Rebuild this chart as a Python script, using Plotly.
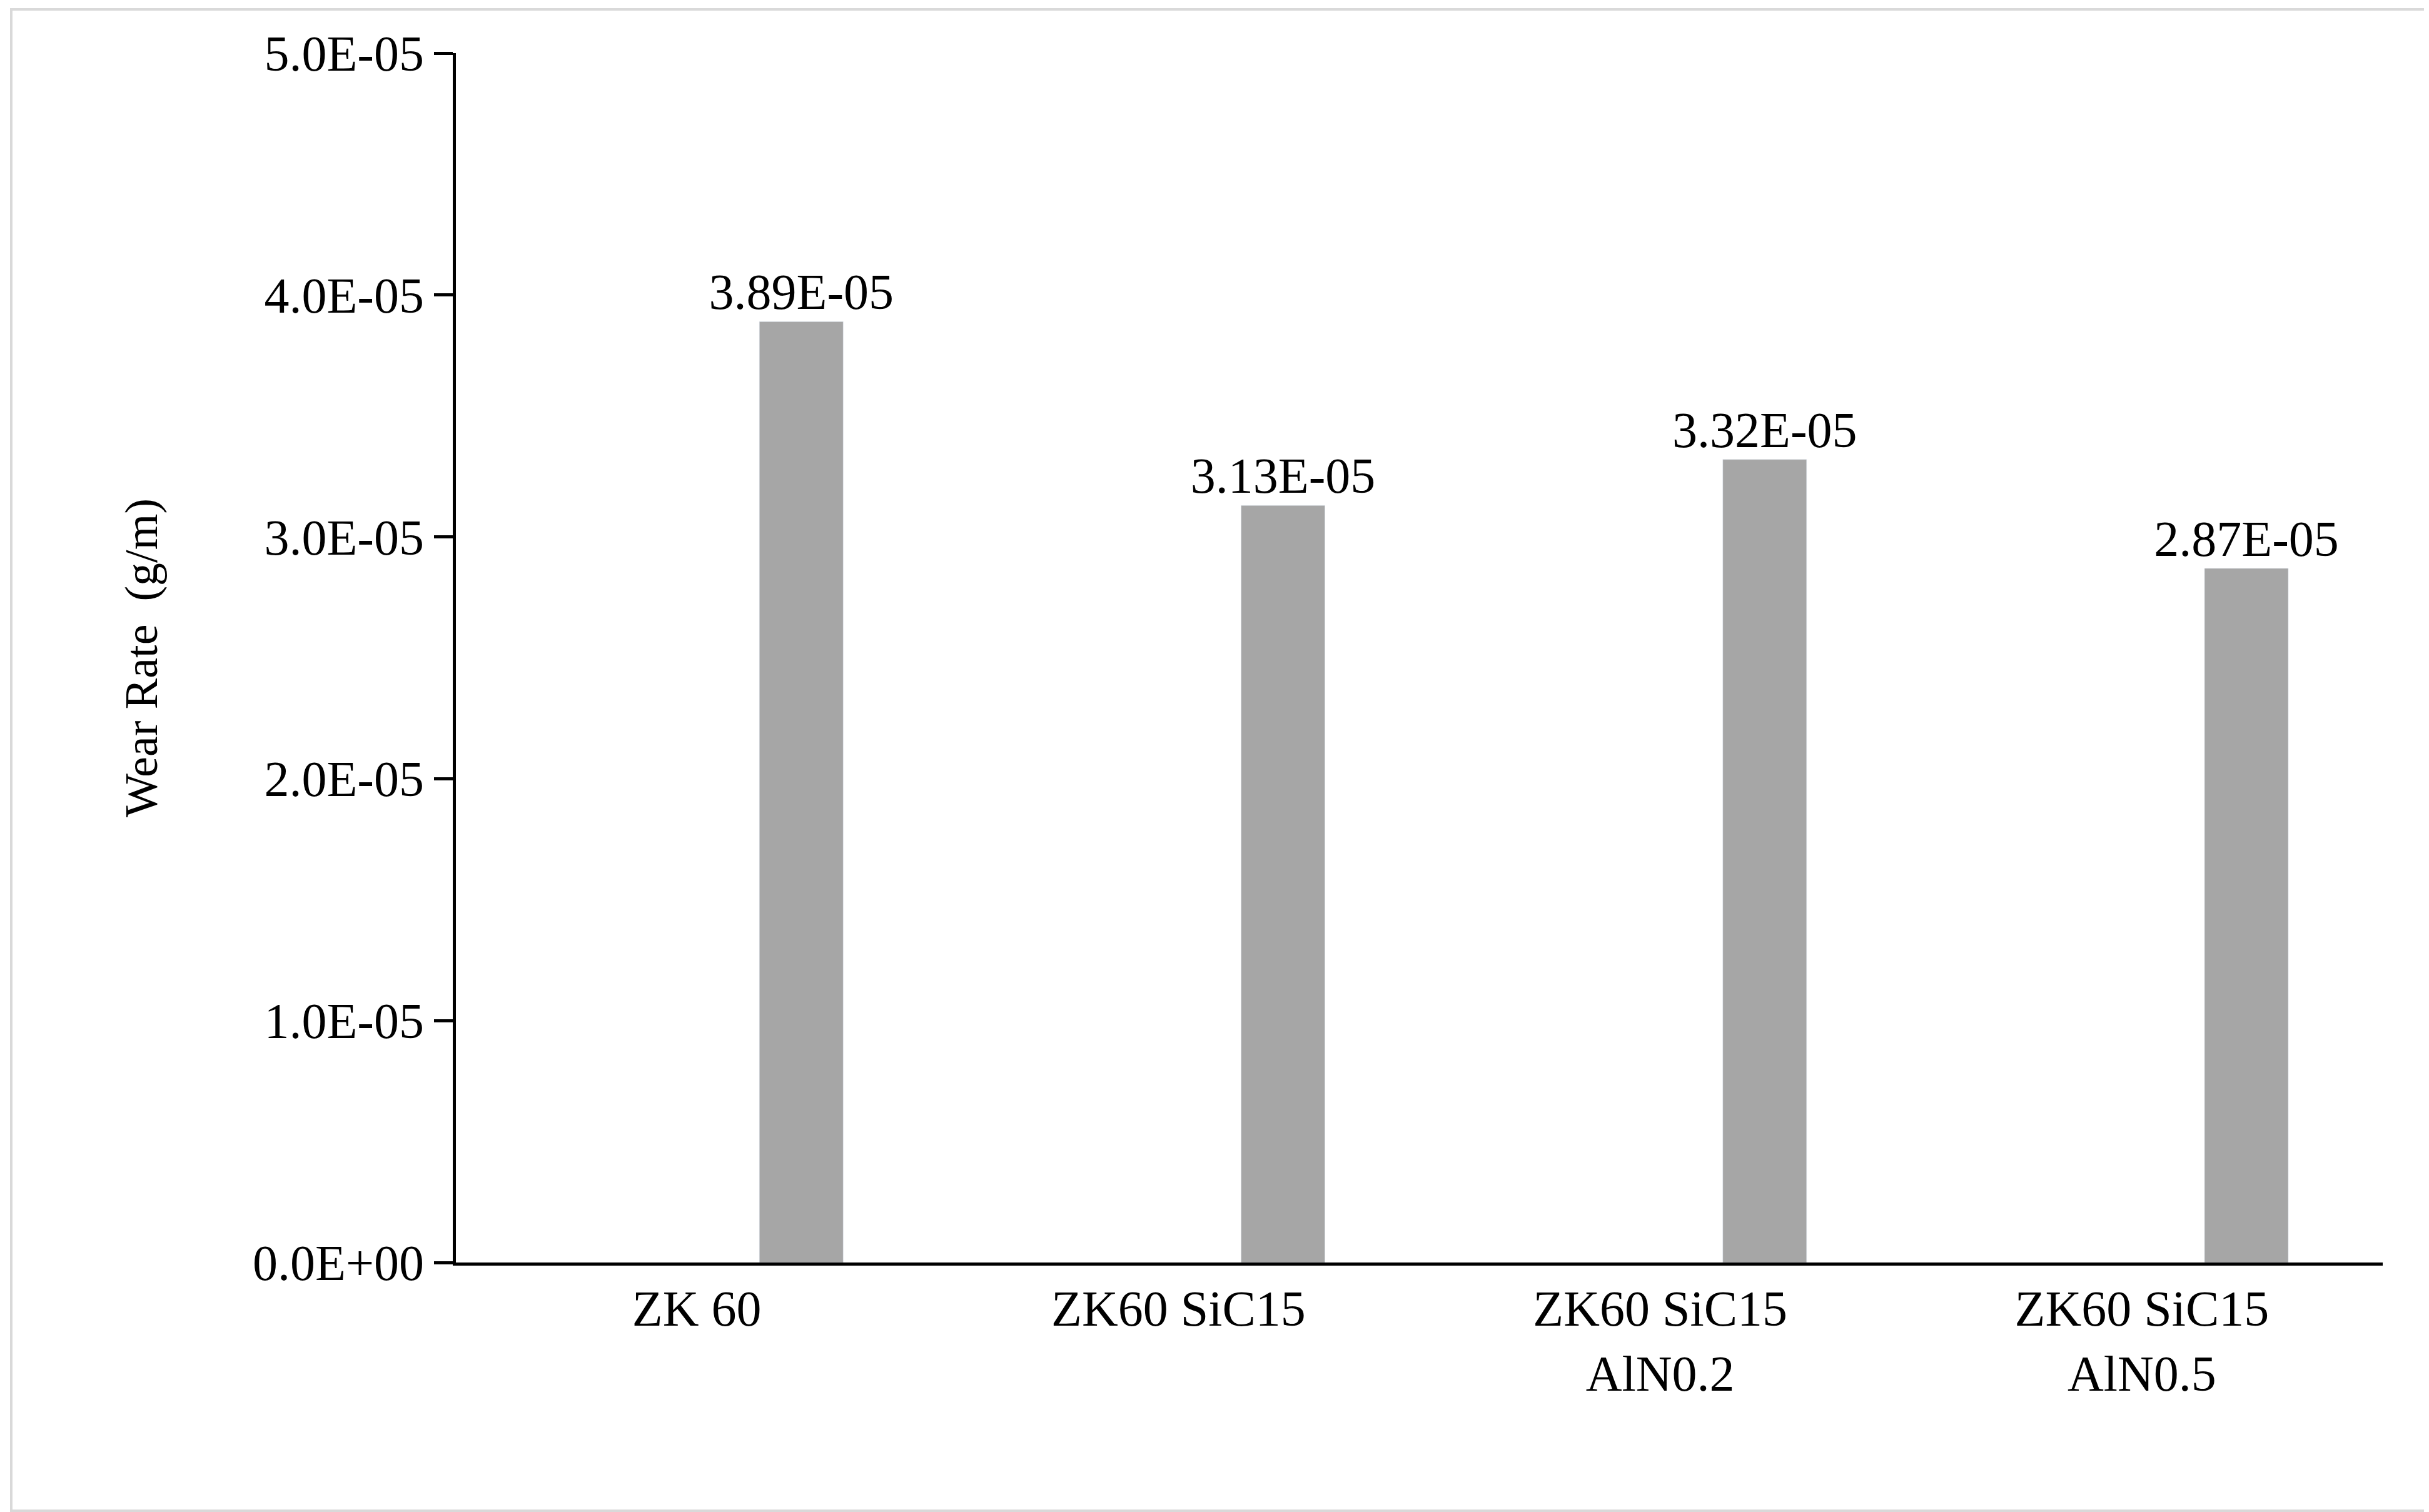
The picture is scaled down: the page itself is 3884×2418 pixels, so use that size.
import plotly.graph_objects as go

# data
categories = ["ZK 60", "ZK60 SiC15", "ZK60 SiC15<br>AlN0.2", "ZK60 SiC15<br>AlN0.5"]
wear_rate = [3.89e-05, 3.13e-05, 3.32e-05, 2.87e-05]
y_ticks = [0, 1e-05, 2e-05, 3e-05, 4e-05, 5e-05]

font = "Liberation Serif, Times New Roman, serif"

fig = go.Figure()
fig.add_trace(go.Bar(
    x=categories, y=wear_rate,
    marker_color="#a6a6a6",
    offset=0.13, width=0.174,
    text=[f"{v:.2E}" for v in wear_rate],
    textposition="outside", cliponaxis=False, constraintext="none",
    textfont=dict(family=font, size=80, color="black"),
))

fig.update_layout(
    width=3884, height=2418,
    paper_bgcolor="white", plot_bgcolor="white",
    margin=dict(l=721, r=82, t=77, b=407),
    showlegend=False,
    font=dict(family=font, color="black"),
    xaxis=dict(
        showline=True, linecolor="black", linewidth=5,
        ticks="", tickfont=dict(family=font, size=80),
    ),
    yaxis=dict(
        range=[0, 5e-05],
        tickvals=y_ticks, ticktext=[f"{v:.1E}" for v in y_ticks],
        showline=True, linecolor="black", linewidth=5,
        ticks="outside", ticklen=30, tickwidth=5, tickcolor="black",
        showgrid=False, zeroline=False,
        tickfont=dict(family=font, size=80),
        title=dict(text="Wear Rate  (g/m)", font=dict(family=font, size=74), standoff=130),
    ),
)
# outer frame around the whole picture
fig.add_shape(type="rect", xref="paper", yref="paper",
              x0=-711 / 3081, x1=1 + 72 / 3081, y0=-397 / 1934, y1=1 + 70 / 1934,
              line=dict(color="#d9d9d9", width=4))

fig.write_html("out.html")
